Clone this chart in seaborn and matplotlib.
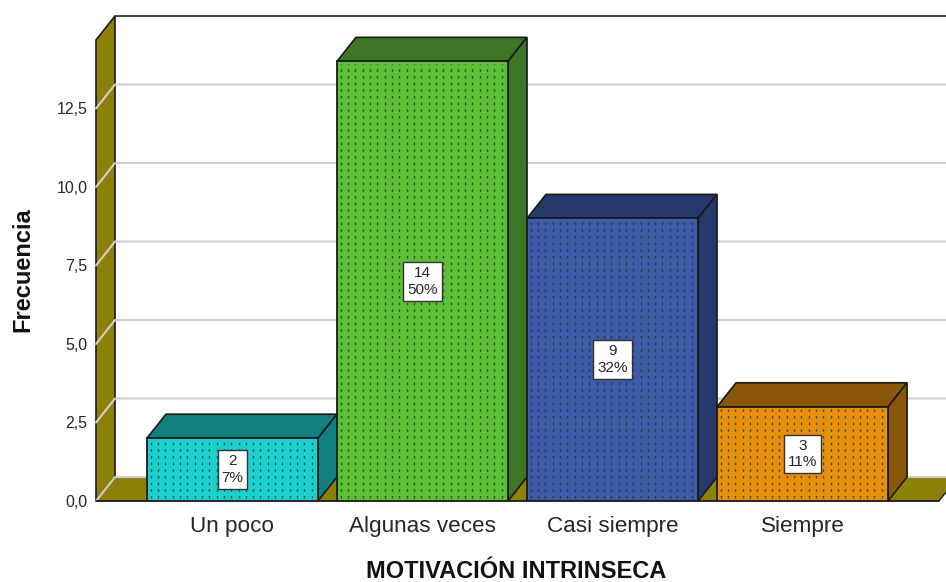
import numpy as np
import pandas as pd
import matplotlib
matplotlib.use("Agg")
import matplotlib.pyplot as plt
from matplotlib.patches import Polygon
import seaborn as sns

# values
categories = ["Un poco", "Algunas veces", "Casi siempre", "Siempre"]
frecuencia = [2, 14, 9, 3]
porcentaje = ["7%", "50%", "32%", "11%"]
y_ticks = [0, 2.5, 5, 7.5, 10, 12.5]
y_tick_labels = ["0,0", "2,5", "5,0", "7,5", "10,0", "12,5"]

front_colors = ["#1ccfcf", "#5cbf35", "#3f5aa8", "#e68f0c"]
side_colors = ["#127f7f", "#3d7726", "#27386b", "#8a5708"]
wall_color = "#8c8008"
grid_color = "#cfcfcf"
edge_color = "#1a1a1a"
text_color = "#262626"

# fake 3d depth in data units
depth_x = 0.1
depth_y = 0.764
x_min, x_max = -0.718, 3.718
y_max = 14.68

sns.set_style("white")
plt.rcParams["font.family"] = ["Liberation Sans", "DejaVu Sans"]

df = pd.DataFrame({"categoria": categories, "frecuencia": frecuencia})

fig = plt.figure(figsize=(9.46, 5.82), dpi=100)
ax = fig.add_axes([96 / 946, (582 - 501) / 582, (939 - 96) / 946, (501 - 40) / 582])

sns.barplot(data=df, x="categoria", y="frecuencia", hue="categoria", order=categories,
            hue_order=categories, palette=front_colors, saturation=1, width=0.9,
            legend=False, edgecolor=edge_color, linewidth=1.3, zorder=5, ax=ax)

ax.set_xlim(x_min, x_max)
ax.set_ylim(0, y_max)
sns.despine(ax=ax, left=True, bottom=True)


def add_poly(points, color, zorder, edge=edge_color, lw=1.2):
    ax.add_patch(Polygon(points, closed=True, facecolor=color, edgecolor=edge,
                         linewidth=lw, zorder=zorder, clip_on=False))


# walls and floor
back_left = x_min + depth_x
back_right = x_max + depth_x
add_poly([(x_min, 0), (back_left, depth_y), (back_left, y_max + depth_y), (x_min, y_max)], wall_color, 1)
add_poly([(x_min, 0), (back_left, depth_y), (back_right, depth_y), (x_max, 0)], wall_color, 1, edge="none")
ax.plot([x_min, x_max], [0, 0], color=edge_color, lw=1.3, zorder=2, clip_on=False)
ax.plot([x_max, back_right], [0, depth_y], color=edge_color, lw=1, zorder=2, clip_on=False)
ax.plot([back_left, back_right], [y_max + depth_y] * 2, color="#333333", lw=1.3, zorder=2, clip_on=False)

# gridlines run across the left wall and the back wall
for t in y_ticks:
    ax.plot([x_min, back_left, back_right], [t, t + depth_y, t + depth_y],
            color=grid_color, lw=1.5, zorder=1.5, clip_on=False)

# bars: top and side faces, dotted pattern and labels
for i, bar in enumerate(ax.patches[:len(categories)]):
    x0 = bar.get_x()
    x1 = x0 + bar.get_width()
    h = bar.get_height()
    add_poly([(x0, h), (x0 + depth_x, h + depth_y), (x1 + depth_x, h + depth_y), (x1, h)], side_colors[i], 4)
    add_poly([(x1, 0), (x1 + depth_x, depth_y), (x1 + depth_x, h + depth_y), (x1, h)], side_colors[i], 4)
    ax.vlines(np.arange(x0 + 0.02, x1 - 0.01, 0.0385), 0.08, h - 0.08, color="#16331f", alpha=0.75,
              lw=1, linestyles=(0, (1.8, 3.0)), zorder=6)
    ax.text(bar.get_x() + bar.get_width() / 2, h / 2, f"{frecuencia[i]}\n{porcentaje[i]}",
            ha="center", va="center", fontsize=11, color=text_color, linespacing=1.25, zorder=8,
            bbox=dict(boxstyle="square,pad=0.26", facecolor="white", edgecolor="#333333", linewidth=1))

ax.set_yticks(y_ticks, y_tick_labels, fontsize=11.5, color=text_color)
ax.tick_params(axis="y", length=0, pad=6)
ax.tick_params(axis="x", length=0, pad=11, labelsize=16.2, labelcolor=text_color)
ax.set_xlabel("")
ax.set_ylabel("")
fig.text(516 / 946, 1 - 571 / 582, "MOTIVACIÓN INTRINSECA", ha="center", va="center",
         fontsize=17, fontweight="bold", color="#111111")
fig.text(23 / 946, 1 - 270 / 582, "Frecuencia", ha="center", va="center", rotation=90,
         fontsize=17, fontweight="bold", color="#111111")

fig.savefig("out.png", dpi=100, facecolor="white")
